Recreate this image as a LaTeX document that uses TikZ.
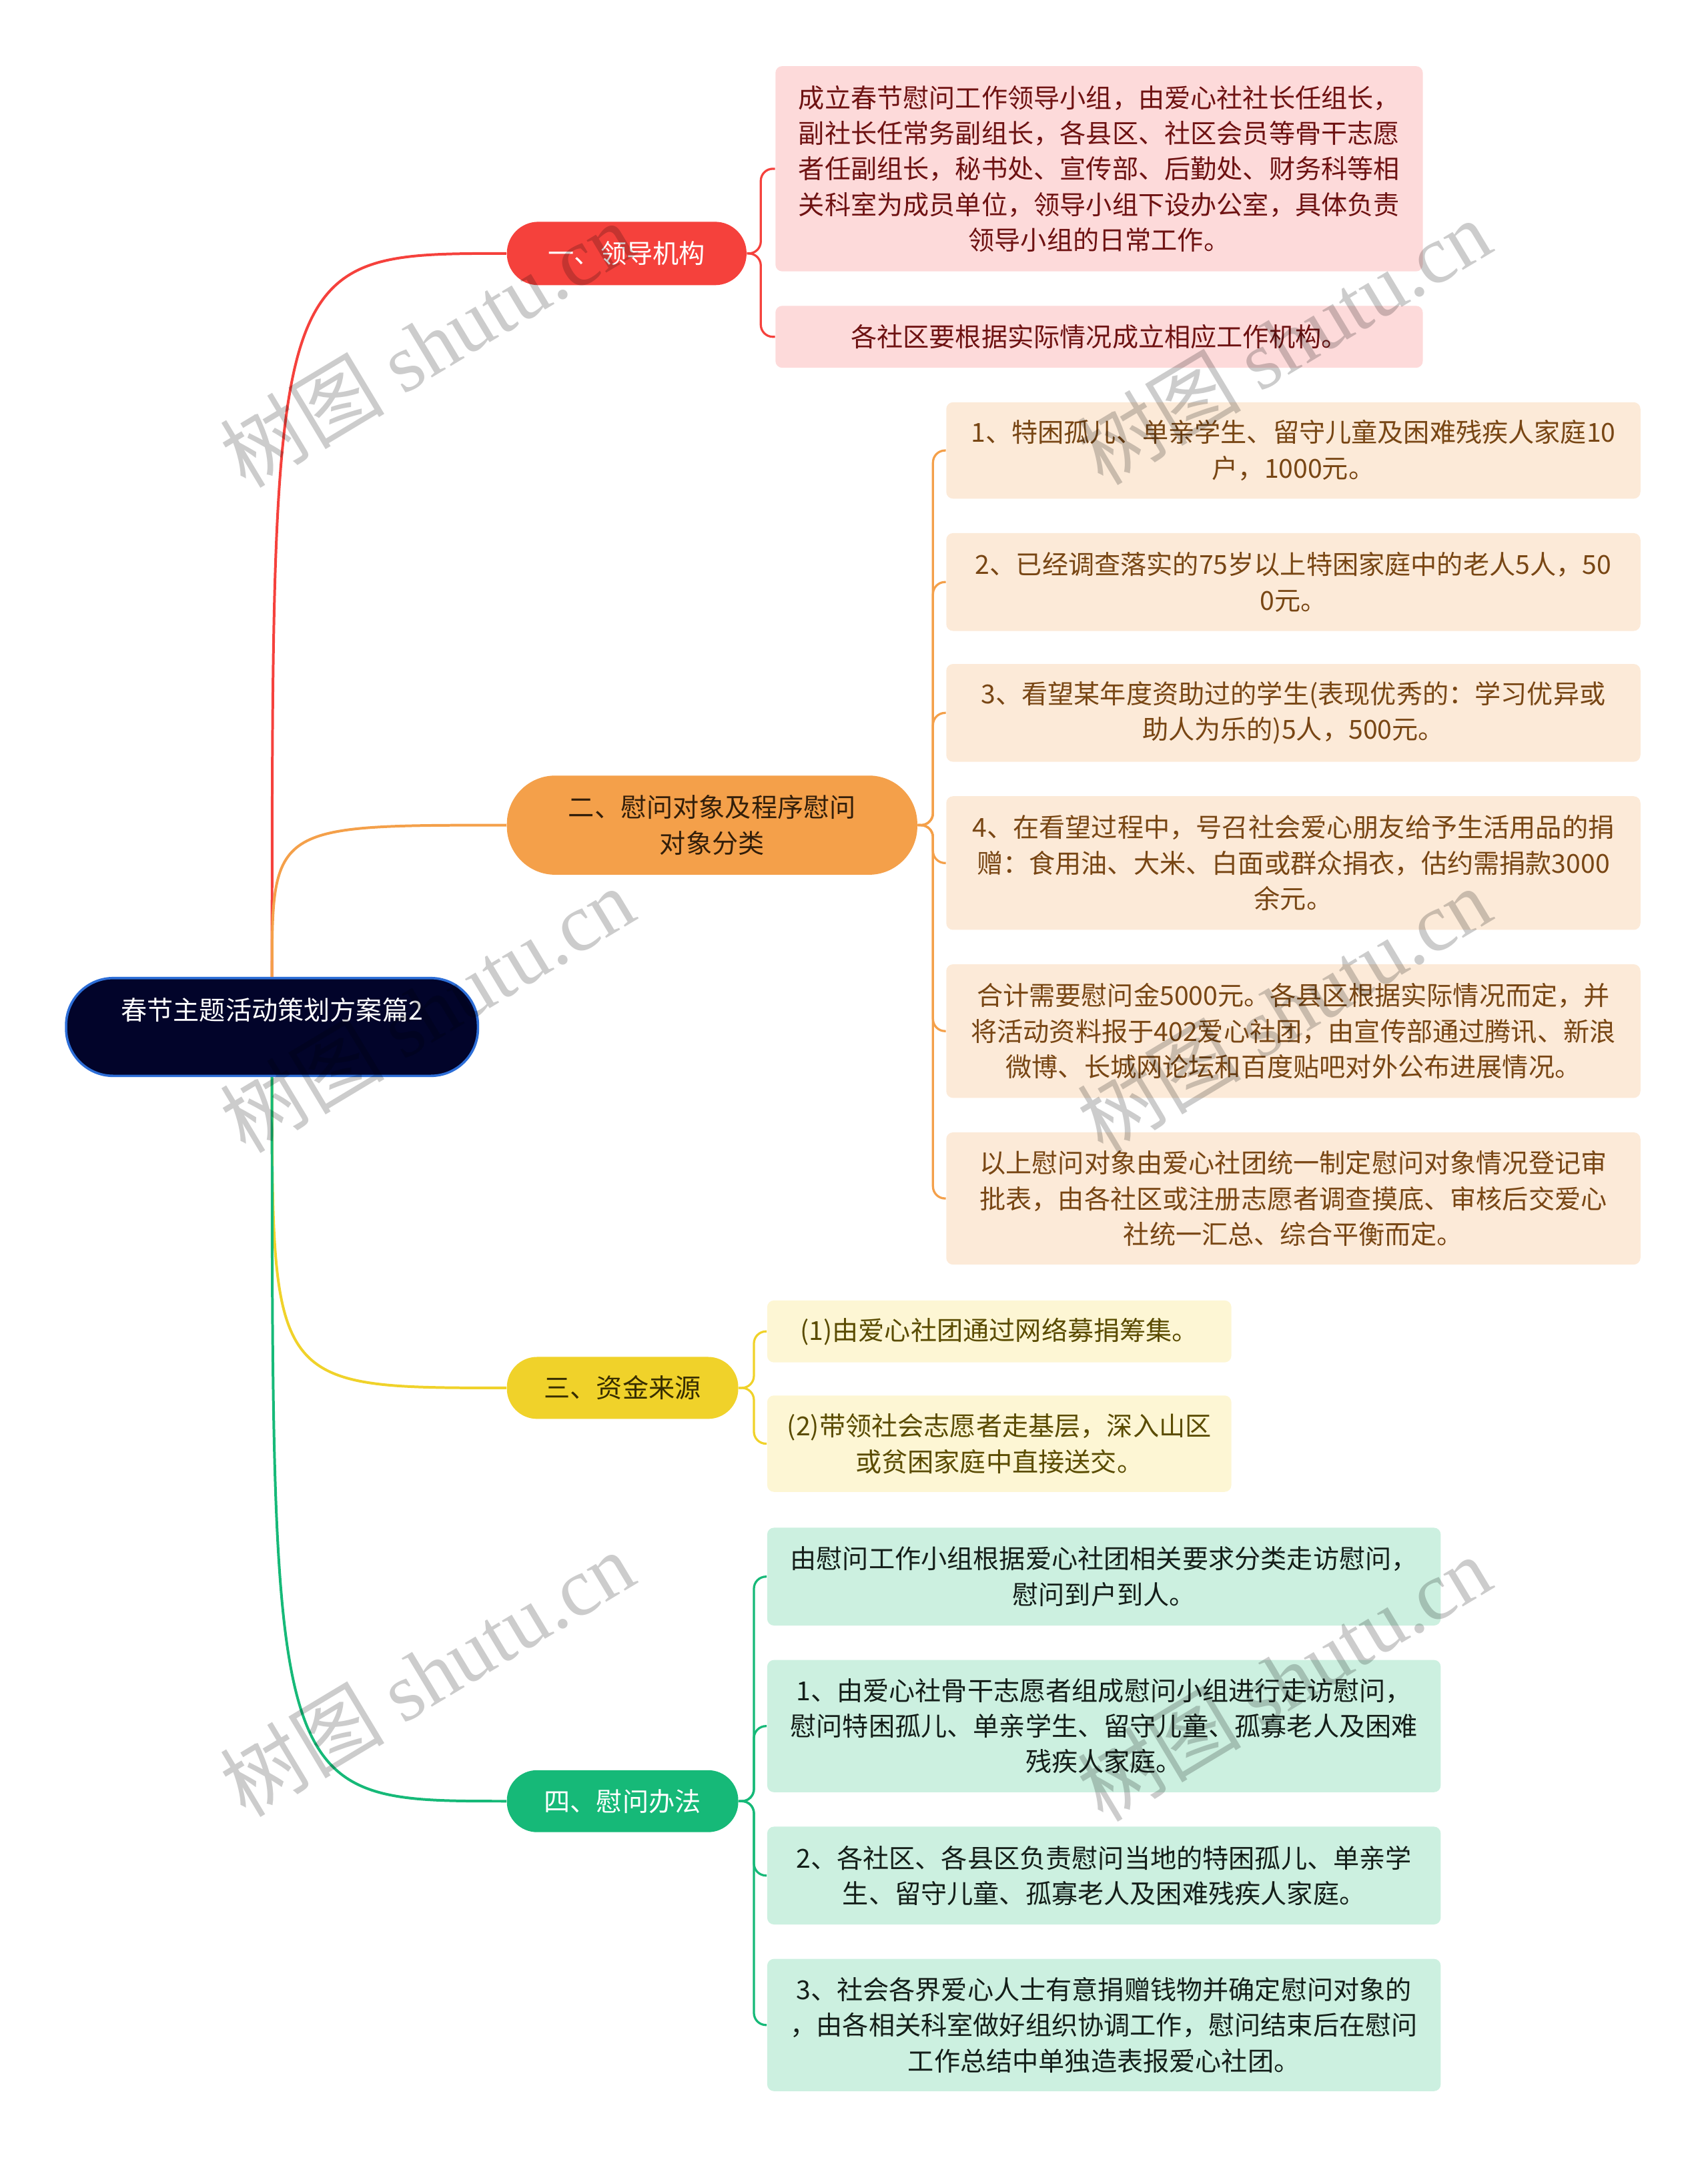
\documentclass[tikz,border=0pt]{standalone}
\usepackage{fontspec}
\setmainfont{Noto Sans CJK SC}
\newfontfamily\wmserif{Liberation Serif}
\definecolor{rootnavy}{RGB}{2,4,42}
\definecolor{rootblue}{RGB}{45,110,215}
\definecolor{mmred}{RGB}{245,65,60}
\definecolor{mmredleaf}{RGB}{253,218,218}
\definecolor{mmredtext}{RGB}{110,18,18}
\definecolor{mmorange}{RGB}{244,160,74}
\definecolor{mmorangeleaf}{RGB}{252,234,216}
\definecolor{mmorangetext}{RGB}{120,70,20}
\definecolor{mmyellow}{RGB}{240,210,42}
\definecolor{mmyellowleaf}{RGB}{253,246,212}
\definecolor{mmyellowtext}{RGB}{90,75,0}
\definecolor{mmgreen}{RGB}{22,185,120}
\definecolor{mmgreenleaf}{RGB}{204,240,224}
\definecolor{mmgreentext}{RGB}{20,30,25}

\begin{document}
\begin{tikzpicture}[x=0.02cm, y=-0.02cm,
  every node/.style={font=\fontsize{10.8}{14.7}\selectfont, align=center, inner sep=0pt},
  boxsize/.style 2 args={minimum width=#1*0.02cm, minimum height=#2*0.02cm},
  rootbox/.style={fill=rootnavy, draw=rootblue, line width=1pt, rounded corners=19.5pt, text=white},
  leafbox/.style={rounded corners=2.8pt},
  rootlink/.style={line width=1.1pt},
  leaflink/.style={line width=0.9pt, rounded corners=5pt},
  watermark/.style={font=\fontsize{34}{40}\selectfont, text=black, text opacity=0.2, rotate=31}]
  \useasboundingbox (0,0) rectangle (1240,1568);
  % root
  \node[rootbox, boxsize={299}{71}] (root) at (197.5,745.5) {春节主题活动策划方案篇2\\ \mbox{}};
  % branches
  \node[fill=mmred, text=white, rounded corners=13pt, boxsize={174}{46}] (b1) at (455,184) {一、领导机构};
  \node[fill=mmorange, text={rgb,255:red,50;green,30;blue,10}, rounded corners=20pt, boxsize={298}{72}] (b2) at (517,599) {二、慰问对象及程序慰问\\对象分类};
  \node[fill=mmyellow, text={rgb,255:red,55;green,45;blue,0}, rounded corners=12.5pt, boxsize={168}{45}] (b3) at (452,1007.5) {三、资金来源};
  \node[fill=mmgreen, text=white, rounded corners=12.5pt, boxsize={168}{45}] (b4) at (452,1307.5) {四、慰问办法};
  % leaves: 一
  \node[leafbox, fill=mmredleaf, text=mmredtext, boxsize={470}{149}] (l1a) at (798,122.5) {成立春节慰问工作领导小组，由爱心社社长任组长，\\副社长任常务副组长，各县区、社区会员等骨干志愿\\者任副组长，秘书处、宣传部、后勤处、财务科等相\\关科室为成员单位，领导小组下设办公室，具体负责\\领导小组的日常工作。};
  \node[leafbox, fill=mmredleaf, text=mmredtext, boxsize={470}{45}] (l1b) at (798,244.5) {各社区要根据实际情况成立相应工作机构。};
  % leaves: 二
  \node[leafbox, fill=mmorangeleaf, text=mmorangetext, boxsize={504}{70}] (l2a) at (939,327) {1、特困孤儿、单亲学生、留守儿童及困难残疾人家庭10\\户，1000元。};
  \node[leafbox, fill=mmorangeleaf, text=mmorangetext, boxsize={504}{71}] (l2b) at (939,422.5) {2、已经调查落实的75岁以上特困家庭中的老人5人，50\\0元。};
  \node[leafbox, fill=mmorangeleaf, text=mmorangetext, boxsize={504}{71}] (l2c) at (939,517.5) {3、看望某年度资助过的学生(表现优秀的：学习优异或\\助人为乐的)5人，500元。};
  \node[leafbox, fill=mmorangeleaf, text=mmorangetext, boxsize={504}{97}] (l2d) at (939,626.5) {4、在看望过程中，号召社会爱心朋友给予生活用品的捐\\赠：食用油、大米、白面或群众捐衣，估约需捐款3000\\余元。};
  \node[leafbox, fill=mmorangeleaf, text=mmorangetext, boxsize={504}{97}] (l2e) at (939,748.5) {合计需要慰问金5000元。各县区根据实际情况而定，并\\将活动资料报于402爱心社团，由宣传部通过腾讯、新浪\\微博、长城网论坛和百度贴吧对外公布进展情况。};
  \node[leafbox, fill=mmorangeleaf, text=mmorangetext, boxsize={504}{96}] (l2f) at (939,870) {以上慰问对象由爱心社团统一制定慰问对象情况登记审\\批表，由各社区或注册志愿者调查摸底、审核后交爱心\\社统一汇总、综合平衡而定。};
  % leaves: 三
  \node[leafbox, fill=mmyellowleaf, text=mmyellowtext, boxsize={337}{45}] (l3a) at (725.5,966.5) {(1)由爱心社团通过网络募捐筹集。};
  \node[leafbox, fill=mmyellowleaf, text=mmyellowtext, boxsize={337}{70}] (l3b) at (725.5,1048) {(2)带领社会志愿者走基层，深入山区\\或贫困家庭中直接送交。};
  % leaves: 四
  \node[leafbox, fill=mmgreenleaf, text=mmgreentext, boxsize={489}{71}] (l4a) at (801.5,1144.5) {由慰问工作小组根据爱心社团相关要求分类走访慰问，\\慰问到户到人。};
  \node[leafbox, fill=mmgreenleaf, text=mmgreentext, boxsize={489}{96}] (l4b) at (801.5,1253) {1、由爱心社骨干志愿者组成慰问小组进行走访慰问，\\慰问特困孤儿、单亲学生、留守儿童、孤寡老人及困难\\残疾人家庭。};
  \node[leafbox, fill=mmgreenleaf, text=mmgreentext, boxsize={489}{71}] (l4c) at (801.5,1361.5) {2、各社区、各县区负责慰问当地的特困孤儿、单亲学\\生、留守儿童、孤寡老人及困难残疾人家庭。};
  \node[leafbox, fill=mmgreenleaf, text=mmgreentext, boxsize={489}{96}] (l4d) at (801.5,1470) {3、社会各界爱心人士有意捐赠钱物并确定慰问对象的\\，由各相关科室做好组织协调工作，慰问结束后在慰问\\工作总结中单独造表报爱心社团。};
  % root to branches
  \draw[rootlink, mmred] (root.north) .. controls (root.north |- b1.west) and (root.north |- b1.west) .. (b1.west);
  \draw[rootlink, mmorange] (root.north) .. controls (root.north |- b2.west) and (root.north |- b2.west) .. (b2.west);
  \draw[rootlink, mmyellow] (root.south) .. controls (root.south |- b3.west) and (root.south |- b3.west) .. (b3.west);
  \draw[rootlink, mmgreen] (root.south) .. controls (root.south |- b4.west) and (root.south |- b4.west) .. (b4.west);
  % branches to leaves
  \foreach \l in {l1a,l1b}
    \draw[leaflink, mmred] (b1.east) -- ++(10,0) |- (\l.west);
  \foreach \l in {l2a,l2b,l2c,l2d,l2e,l2f}
    \draw[leaflink, mmorange] (b2.east) -- ++(11,0) |- (\l.west);
  \foreach \l in {l3a,l3b}
    \draw[leaflink, mmyellow] (b3.east) -- ++(11,0) |- (\l.west);
  \foreach \l in {l4a,l4b,l4c,l4d}
    \draw[leaflink, mmgreen] (b4.east) -- ++(11,0) |- (\l.west);
  % watermarks
  \node[watermark] (wm1) at (310,250) {树图 {\wmserif shutu.cn}};
  \node[watermark] (wm2) at (932,248) {树图 {\wmserif shutu.cn}};
  \node[watermark] (wm3) at (310,733) {树图 {\wmserif shutu.cn}};
  \node[watermark] (wm4) at (932,733) {树图 {\wmserif shutu.cn}};
  \node[watermark] (wm5) at (310,1215) {树图 {\wmserif shutu.cn}};
  \node[watermark] (wm6) at (932,1218) {树图 {\wmserif shutu.cn}};
\end{tikzpicture}
\end{document}
